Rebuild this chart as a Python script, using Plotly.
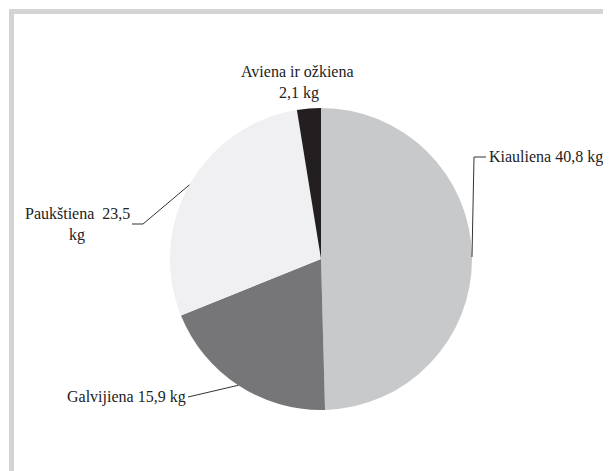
import math
import plotly.graph_objects as go

categories = ["Kiauliena", "Galvijiena", "Paukštiena", "Aviena ir ožkiena"]
values = [40.8, 15.9, 23.5, 2.1]
value_labels = ["40,8 kg", "15,9 kg", "23,5", "2,1 kg"]
colors = ["#c8c9cb", "#767679", "#f0f0f2", "#231f20"]

OFF = 8  # page body margin
W, H = 611 - OFF, 471 - OFF
CX, CY, R = 321, 259, 151


def px(x):
    return (x - OFF) / W


def py(y):
    return 1 - (y - OFF) / H


fig = go.Figure(go.Pie(
    labels=categories,
    values=values,
    sort=False,
    direction="clockwise",
    rotation=0,
    marker=dict(colors=colors, line=dict(width=0)),
    textinfo="none",
    hoverinfo="label+value",
    showlegend=False,
    domain=dict(x=[px(CX - R), px(CX + R)], y=[py(CY + R), py(CY - R)]),
))

# mid-angle edge points from data
total = sum(values)
edges = []
acc = 0.0
for v in values:
    mid = (acc + v / 2) / total * 2 * math.pi
    acc += v
    edges.append((CX + R * math.sin(mid), CY - R * math.cos(mid)))

line_style = dict(color="#333333", width=1)
shapes = [
    dict(type="rect", xref="paper", yref="paper",
         x0=px(11.5), x1=px(608), y0=py(490), y1=py(11.5),
         line=dict(color="#d4d4d4", width=5), layer="below"),
]
# Kiauliena leader
ex, ey = edges[0]
shapes.append(dict(type="path", xref="paper", yref="paper",
                   path=f"M {px(ex)},{py(ey)} L {px(474)},{py(157)} L {px(486)},{py(157)}",
                   line=line_style))
# Galvijiena leader
ex, ey = edges[1]
shapes.append(dict(type="path", xref="paper", yref="paper",
                   path=f"M {px(ex)},{py(ey)} L {px(188)},{py(397)}",
                   line=line_style))
# Paukštiena leader
ex, ey = edges[2]
shapes.append(dict(type="path", xref="paper", yref="paper",
                   path=f"M {px(ex)},{py(ey)} L {px(143)},{py(224)} L {px(132)},{py(224)}",
                   line=line_style))

font = dict(family="'Liberation Serif', 'Times New Roman', 'DejaVu Serif', serif",
            size=16, color="#222222")


def ann(text, x, y, xanchor):
    return dict(text=text, x=px(x), y=py(y), xref="paper", yref="paper",
                xanchor=xanchor, yanchor="middle", showarrow=False, font=font)


annotations = [
    ann(f"{categories[0]} {value_labels[0]}", 487, 157, "left"),
    ann(f"{categories[1]} {value_labels[1]}", 188, 397, "right"),
    ann(f"{categories[2]}  {value_labels[2]}", 77, 213, "center"),
    ann("kg", 77, 235, "center"),
    ann(categories[3], 297, 71, "center"),
    ann(value_labels[3], 299, 93, "center"),
]

fig.update_layout(
    width=W, height=H,
    margin=dict(l=0, r=0, t=0, b=0),
    paper_bgcolor="white",
    plot_bgcolor="white",
    shapes=shapes,
    annotations=annotations,
    font=font,
)

fig.write_html("out.html")
